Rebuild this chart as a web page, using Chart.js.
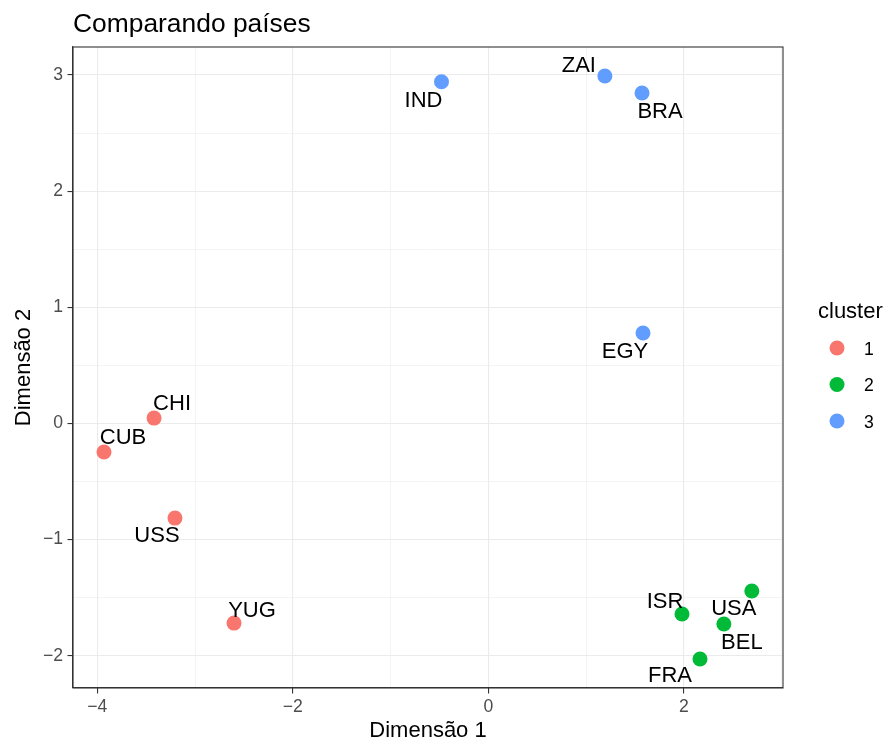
<!DOCTYPE html>
<html>
<head>
<meta charset="utf-8">
<title>Comparando países</title>
<script src="https://cdn.jsdelivr.net/npm/chart.js@4.4.1/dist/chart.umd.min.js"></script>
<style>
  html, body { margin: 0; padding: 0; background: #ffffff; }
  #wrap { width: 888px; height: 742px; position: relative; }
</style>
</head>
<body>
<div id="wrap"><canvas id="chart" width="888" height="742"></canvas></div>
<script>
// Country codes and their coordinates on the two dimensions
const countries = ['IND', 'ZAI', 'BRA', 'EGY', 'CHI', 'CUB', 'USS', 'YUG', 'ISR', 'USA', 'BEL', 'FRA'];
const dim1 = [-0.479, 1.192, 1.572, 1.582, -3.419, -3.931, -3.205, -2.601, 1.981, 2.695, 2.409, 2.165];
const dim2 = [2.942, 2.991, 2.845, 0.778, 0.046, -0.246, -0.815, -1.719, -1.641, -1.443, -1.727, -2.028];
const cluster = [3, 3, 3, 3, 1, 1, 1, 1, 2, 2, 2, 2];
const clusterNames = ['1', '2', '3'];
const xTickLabels = [-4, -2, 0, 2];
const yTickLabels = [-2, -1, 0, 1, 2, 3];

// Styling
const clusterColors = ['#F8766D', '#00BA38', '#619CFF'];
const FONT = '"Liberation Sans", Arial, Helvetica, sans-serif';
// Pixel nudges for the country labels, so they sit beside their points
const labelNudge = {
  IND: [-18, 17], ZAI: [-26, -12], BRA: [18, 17], EGY: [-18, 17],
  CHI: [18, -16], CUB: [19, -16], USS: [-18, 16], YUG: [18, -14],
  ISR: [-17, -14], USA: [-18, 16], BEL: [18, 17], FRA: [-30, 15]
};

const datasets = clusterNames.map((name, ci) => {
  const pts = [];
  countries.forEach((c, i) => {
    if (cluster[i] === ci + 1) pts.push({ x: dim1[i], y: dim2[i], name: c });
  });
  return {
    label: name,
    data: pts,
    backgroundColor: clusterColors[ci],
    borderWidth: 0,
    pointRadius: 7.5,
    pointHoverRadius: 7.5
  };
});

const minus = v => String(v).replace('-', '\u2212');

const extrasPlugin = {
  id: 'extras',
  afterDatasetsDraw(chart) {
    const ctx = chart.ctx;
    const a = chart.chartArea;
    ctx.save();
    // country labels
    ctx.fillStyle = '#000000';
    ctx.font = '22px ' + FONT;
    ctx.textAlign = 'center';
    ctx.textBaseline = 'alphabetic';
    chart.data.datasets.forEach((ds, di) => {
      const meta = chart.getDatasetMeta(di);
      meta.data.forEach((el, j) => {
        const name = ds.data[j].name;
        const n = labelNudge[name] || [0, 0];
        // baseline sits half a cap height below the label centre
        ctx.fillText(name, el.x + n[0], el.y + n[1] + 8);
      });
    });
    // panel border
    ctx.strokeStyle = '#333333';
    ctx.lineWidth = 1.1;
    ctx.strokeRect(a.left, a.top, a.right - a.left, a.bottom - a.top);
    ctx.restore();
  },
  afterDraw(chart) {
    const ctx = chart.ctx;
    const a = chart.chartArea;
    ctx.save();
    // title
    ctx.fillStyle = '#000000';
    ctx.font = '26.4px ' + FONT;
    ctx.textAlign = 'left';
    ctx.textBaseline = 'alphabetic';
    ctx.fillText('Comparando países', a.left, 32);
    // axis titles
    ctx.font = '22px ' + FONT;
    ctx.textAlign = 'center';
    ctx.fillText('Dimensão 1', (a.left + a.right) / 2, 737);
    ctx.save();
    ctx.translate(29.5, (a.top + a.bottom) / 2);
    ctx.rotate(-Math.PI / 2);
    ctx.fillText('Dimensão 2', 0, 0);
    ctx.restore();
    // legend
    ctx.textAlign = 'left';
    ctx.font = '22px ' + FONT;
    ctx.fillText('cluster', 818, 318);
    ctx.font = '17.6px ' + FONT;
    clusterNames.forEach((name, i) => {
      const y = 348 + i * 36.5;
      ctx.beginPath();
      ctx.fillStyle = clusterColors[i];
      ctx.arc(837, y, 7.5, 0, Math.PI * 2);
      ctx.fill();
      ctx.fillStyle = '#000000';
      ctx.fillText(name, 864, y + 6.5);
    });
    ctx.restore();
  }
};

new Chart(document.getElementById('chart'), {
  type: 'scatter',
  data: { datasets },
  plugins: [extrasPlugin],
  options: {
    responsive: false,
    animation: false,
    events: [],
    layout: { padding: { top: 47, right: 105, left: 0, bottom: 0 } },
    plugins: {
      legend: { display: false },
      title: { display: false },
      tooltip: { enabled: false }
    },
    scales: {
      x: {
        type: 'linear',
        min: -4.248,
        max: 3.014,
        afterFit(scale) { scale.height = 54; },
        afterBuildTicks(scale) {
          const t = [];
          for (let v = -4; v <= 3; v++) t.push({ value: v });
          scale.ticks = t;
        },
        border: { display: true, color: '#333333', width: 1.1 },
        grid: {
          color: '#EBEBEB',
          lineWidth: c => (xTickLabels.includes(c.tick.value) ? 1.1 : 0.55),
          tickColor: c => (xTickLabels.includes(c.tick.value) ? '#333333' : 'rgba(0,0,0,0)'),
          tickLength: 5.5,
          tickWidth: 1.1
        },
        ticks: {
          autoSkip: false,
          maxRotation: 0,
          padding: 3,
          color: '#4D4D4D',
          font: { family: FONT, size: 17.6 },
          callback: v => (xTickLabels.includes(v) ? minus(v) : '')
        }
      },
      y: {
        type: 'linear',
        min: -2.278,
        max: 3.241,
        afterFit(scale) { scale.width = 73; },
        afterBuildTicks(scale) {
          const t = [];
          for (let v = -2; v <= 3; v += 0.5) t.push({ value: v });
          scale.ticks = t;
        },
        border: { display: true, color: '#333333', width: 1.1 },
        grid: {
          color: '#EBEBEB',
          lineWidth: c => (yTickLabels.includes(c.tick.value) ? 1.1 : 0.55),
          tickColor: c => (yTickLabels.includes(c.tick.value) ? '#333333' : 'rgba(0,0,0,0)'),
          tickLength: 5.5,
          tickWidth: 1.1
        },
        ticks: {
          autoSkip: false,
          padding: 4.4,
          color: '#4D4D4D',
          font: { family: FONT, size: 17.6 },
          callback: v => (yTickLabels.includes(v) ? minus(v) : '')
        }
      }
    }
  }
});
</script>
</body>
</html>
